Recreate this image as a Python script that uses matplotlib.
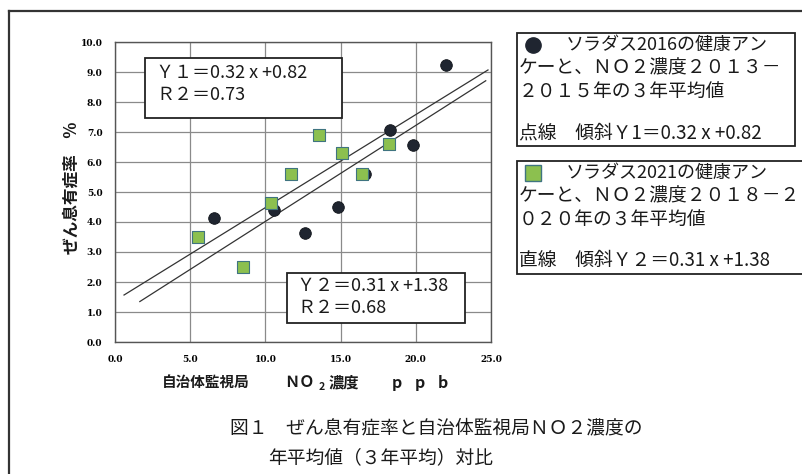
import matplotlib
matplotlib.use("Agg")
import matplotlib.pyplot as plt
from matplotlib.patches import Rectangle
from matplotlib.lines import Line2D

plt.rcParams['font.family'] = ['Noto Sans CJK JP', 'DejaVu Sans']

# NO2 concentration (ppb) vs asthma prevalence (%)
no2_2016 = [6.55, 10.6, 12.6, 14.8, 16.6, 18.3, 19.8, 22.0]
rate_2016 = [4.12, 4.40, 3.63, 4.50, 5.60, 7.07, 6.57, 9.24]
no2_2021 = [5.53, 8.49, 10.4, 11.73, 13.55, 15.07, 16.4, 18.25]
rate_2021 = [3.51, 2.51, 4.64, 5.60, 6.90, 6.29, 5.60, 6.60]

# regression lines: slope, intercept, x range
fit1 = (0.32, 0.82, 1.65, 24.65)
fit2 = (0.31, 1.38, 0.6, 24.8)

xticks = [0, 5, 10, 15, 20, 25]
xtick_labels = ["0.0", "5.0", "10.0", "15.0", "20.0", "25.0"]
yticks = list(range(0, 11))
ytick_labels = [f"{v:.1f}" for v in yticks]

W, H = 802, 474
fig = plt.figure(figsize=(W / 100, H / 100), dpi=100)


def fx(px):
    return px / W


def fy(py):
    return 1 - py / H


ax = fig.add_axes([fx(115), fy(342), (491 - 115) / W, 300 / H])
ax.set_xlim(0, 25)
ax.set_ylim(0, 10)
ax.set_xticks(xticks)
ax.set_xticklabels(xtick_labels)
ax.set_yticks(yticks)
ax.set_yticklabels(ytick_labels)
ax.tick_params(length=0, pad=9, labelsize=6.5)
for lab in ax.get_xticklabels() + ax.get_yticklabels():
    lab.set_fontfamily('DejaVu Serif')
    lab.set_fontweight('bold')
ax.grid(True, color='#8a8a8a', linewidth=0.9)
ax.set_axisbelow(True)
for sp in ax.spines.values():
    sp.set_color('#555555')
    sp.set_linewidth(1.0)

for slope, icpt, x0, x1 in (fit1, fit2):
    ax.plot([x0, x1], [slope * x0 + icpt, slope * x1 + icpt],
            color='#333333', linewidth=0.9, zorder=2)

ax.scatter(no2_2016, rate_2016, s=70, marker='o', color='#1f2530',
           edgecolor='#10141a', linewidth=0.6, zorder=3)
ax.scatter(no2_2021, rate_2021, s=80, marker='s', color='#8cc04f',
           edgecolor='#3f7480', linewidth=0.8, zorder=4)


def box(x0, y0, x1, y1, lw=1.3):
    fig.add_artist(Rectangle((fx(x0), fy(y1)), fx(x1) - fx(x0), fy(y0) - fy(y1),
                             transform=fig.transFigure, facecolor='white',
                             edgecolor='#222222', linewidth=lw, zorder=5))


def txt(x, y, s, size=14, weight='normal', ha='left', **kw):
    fig.text(fx(x), fy(y), s, fontsize=size, fontweight=weight, ha=ha,
             va='center', color='#1a1a1a', zorder=6, **kw)


# frame around the figure
fig.add_artist(Line2D([fx(9), fx(9)], [fy(11), 0], transform=fig.transFigure,
                      color='#333333', linewidth=1.6))
fig.add_artist(Line2D([fx(9), 1], [fy(11), fy(11)], transform=fig.transFigure,
                      color='#333333', linewidth=1.6))

# equation boxes
box(145, 58, 342, 118)
txt(156, 73, "Ｙ１＝0.32 x +0.82", size=13)
txt(156, 95, "Ｒ２＝0.73", size=13)
box(287, 273, 465, 323)
txt(297, 286, "Ｙ２＝0.31 x +1.38", size=13)
txt(297, 308, "Ｒ２＝0.68", size=13)

# legend boxes
box(517, 33, 795, 146)
fig.add_artist(Line2D([fx(533)], [fy(45)], marker='o', markersize=11,
                      color='#1f2530', transform=fig.transFigure, zorder=7))
txt(566, 45, "ソラダス2016の健康アン", size=13)
txt(519, 68, "ケーと、ＮＯ２濃度２０１３－", size=13.5)
txt(519, 91, "２０１５年の３年平均値", size=13.5)
txt(519, 133, "点線　傾斜Ｙ1＝0.32 x +0.82", size=13.5)

box(517, 161, 810, 274)
fig.add_artist(Line2D([fx(533)], [fy(173)], marker='s', markersize=12,
                      markerfacecolor='#8cc04f', markeredgecolor='#3f7480',
                      transform=fig.transFigure, zorder=7))
txt(566, 173, "ソラダス2021の健康アン", size=13)
txt(519, 196, "ケーと、ＮＯ２濃度２０１８－２", size=13.5)
txt(519, 219, "０２０年の３年平均値", size=13.5)
txt(519, 260, "直線　傾斜Ｙ２＝0.31 x +1.38", size=13.5)

# axis titles
fig.text(fx(72), fy(188), "ぜん息有症率　%", rotation=90, fontsize=12,
         fontweight='bold', ha='center', va='center', color='#1a1a1a')
txt(162, 382, "自治体監視局", size=10.5, weight='bold')
txt(284, 382, "ＮＯ", size=11, weight='bold')
txt(319, 387, "2", size=7.5, weight='bold')
txt(329, 382, "濃度", size=11, weight='bold')
for px, ch in zip([397, 420, 443], "ppb"):
    txt(px, 383, ch, size=11.5, weight='bold', ha='center')

# caption
txt(230, 428, "図１　ぜん息有症率と自治体監視局ＮＯ２濃度の", size=13.5)
txt(268, 458, "年平均値（３年平均）対比", size=13.5)

fig.savefig("out.png", dpi=100, facecolor='white')
